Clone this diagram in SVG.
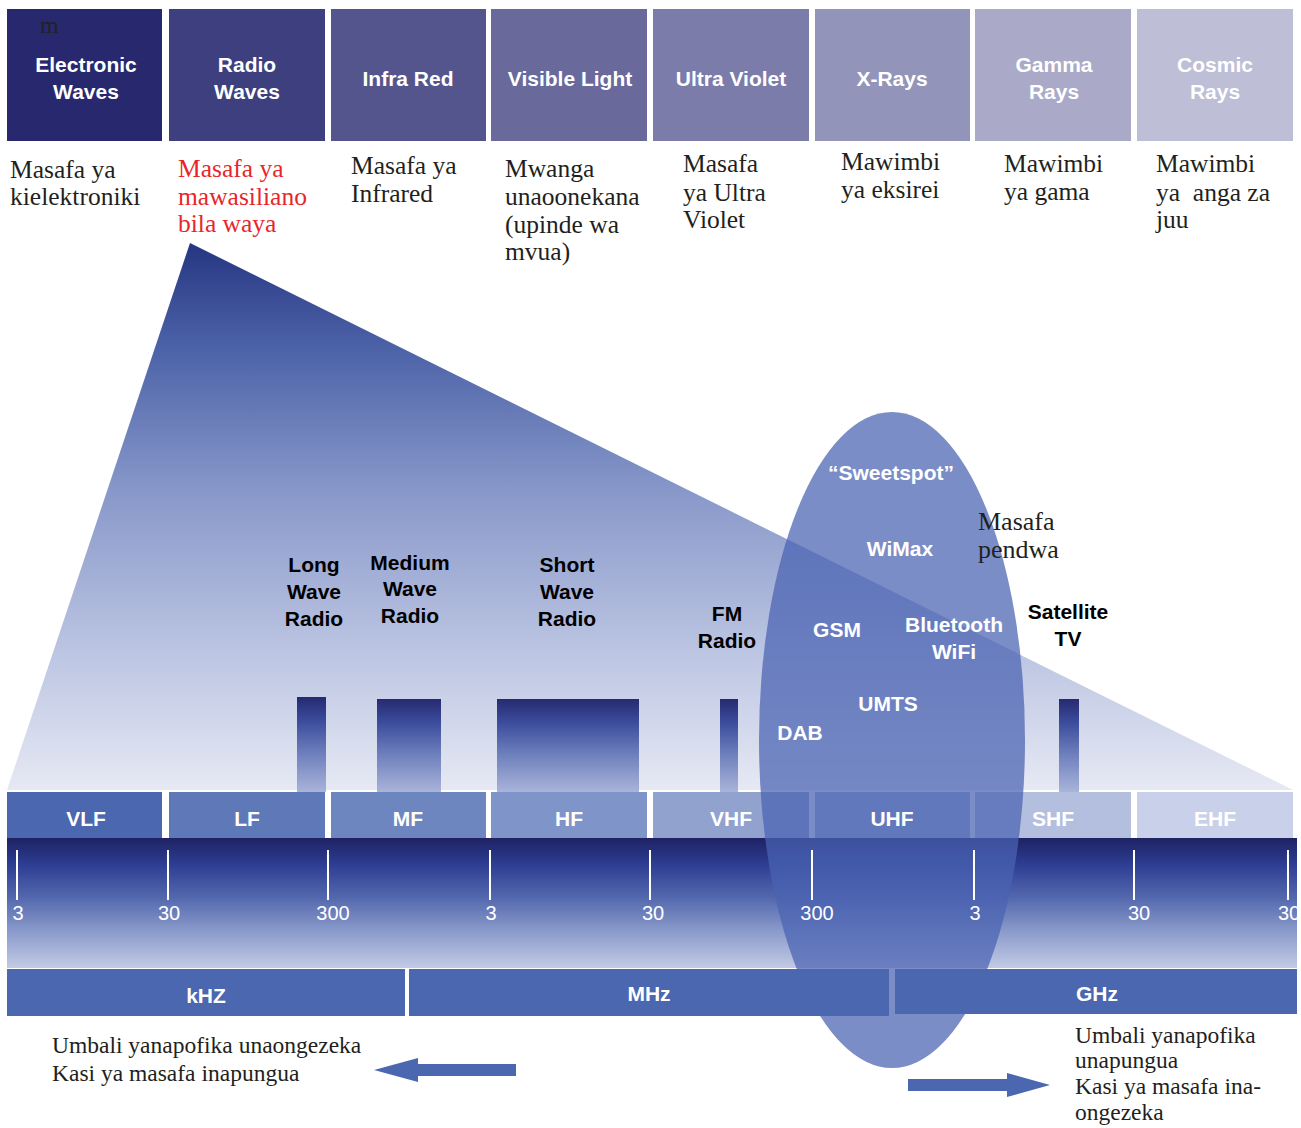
<svg xmlns="http://www.w3.org/2000/svg" width="1301" height="1128" viewBox="0 0 1301 1128">
<style>
.hd{font-family:"Liberation Sans",Arial,sans-serif;font-weight:bold;font-size:21px;fill:#fff;text-anchor:middle}
.ds{font-family:"Liberation Serif","Times New Roman",serif;font-size:25.5px;fill:#231f20}
.red{fill:#e8262a}
.bl{font-family:"Liberation Sans",Arial,sans-serif;font-weight:bold;font-size:21px;fill:#000;text-anchor:middle}
.wl{font-family:"Liberation Sans",Arial,sans-serif;font-weight:bold;font-size:21px;fill:#fff;text-anchor:middle}
.num{font-family:"Liberation Sans",Arial,sans-serif;font-size:20px;fill:#fff;text-anchor:middle}
.tick{stroke:#fff;stroke-width:2}
.bt{font-family:"Liberation Serif","Times New Roman",serif;font-size:23.5px;fill:#231f20}
.unit{fill:#4a67b0}
.bar{fill:url(#gBar)}
</style>
<defs>
<linearGradient id="gTri" gradientUnits="userSpaceOnUse" x1="0" y1="243" x2="0" y2="790">
<stop offset="0" stop-color="#263682"/>
<stop offset="0.2" stop-color="#4e64a9"/>
<stop offset="0.45" stop-color="#8797c9"/>
<stop offset="0.75" stop-color="#bcc5e2"/>
<stop offset="1" stop-color="#e6e9f4"/>
</linearGradient>
<linearGradient id="gBar" x1="0" y1="0" x2="0" y2="1">
<stop offset="0" stop-color="#262a70"/>
<stop offset="0.25" stop-color="#3b4c9c"/>
<stop offset="0.6" stop-color="#6e80bd"/>
<stop offset="1" stop-color="#aab4da"/>
</linearGradient>
<linearGradient id="gScale" gradientUnits="userSpaceOnUse" x1="0" y1="838" x2="0" y2="968">
<stop offset="0" stop-color="#1e2263"/>
<stop offset="0.2" stop-color="#2d3d92"/>
<stop offset="0.45" stop-color="#5266ad"/>
<stop offset="0.7" stop-color="#8797c9"/>
<stop offset="1" stop-color="#c2cae5"/>
</linearGradient>
</defs>
<rect width="1301" height="1128" fill="#fff"/>

<g id="header">
<g id="h-electronic"><rect x="7" y="9" width="155" height="132" fill="#27286e"/><text x="40" y="33" font-family="Liberation Serif,serif" font-size="24" fill="#222">m</text><text class="hd" x="86" y="72">Electronic</text><text class="hd" x="86" y="99">Waves</text></g>
<g id="h-radio"><rect x="169" y="9" width="156" height="132" fill="#3e3f7e"/><text class="hd" x="247" y="72">Radio</text><text class="hd" x="247" y="99">Waves</text></g>
<g id="h-infrared"><rect x="331" y="9" width="155" height="132" fill="#55558d"/><text class="hd" x="408" y="86">Infra Red</text></g>
<g id="h-visible"><rect x="491" y="9" width="156" height="132" fill="#69699c"/><text class="hd" x="570" y="86">Visible Light</text></g>
<g id="h-uv"><rect x="653" y="9" width="156" height="132" fill="#7c7caa"/><text class="hd" x="731" y="86">Ultra Violet</text></g>
<g id="h-xray"><rect x="815" y="9" width="155" height="132" fill="#9394b9"/><text class="hd" x="892" y="86">X-Rays</text></g>
<g id="h-gamma"><rect x="975" y="9" width="156" height="132" fill="#aaaac8"/><text class="hd" x="1054" y="72">Gamma</text><text class="hd" x="1054" y="99">Rays</text></g>
<g id="h-cosmic"><rect x="1137" y="9" width="156" height="132" fill="#bebed6"/><text class="hd" x="1215" y="72">Cosmic</text><text class="hd" x="1215" y="99">Rays</text></g>
</g>

<g id="descriptions">
<text class="ds" x="10" y="178">Masafa ya</text><text class="ds" x="10" y="205">kielektroniki</text>
<text class="ds red" x="178" y="177">Masafa ya</text><text class="ds red" x="178" y="205">mawasiliano</text><text class="ds red" x="178" y="232">bila waya</text>
<text class="ds" x="351" y="174">Masafa ya</text><text class="ds" x="351" y="202">Infrared</text>
<text class="ds" x="505" y="177">Mwanga</text><text class="ds" x="505" y="205">unaoonekana</text><text class="ds" x="505" y="233">(upinde wa</text><text class="ds" x="505" y="260">mvua)</text>
<text class="ds" x="683" y="172">Masafa</text><text class="ds" x="683" y="201">ya Ultra</text><text class="ds" x="683" y="228">Violet</text>
<text class="ds" x="841" y="170">Mawimbi</text><text class="ds" x="841" y="198">ya eksirei</text>
<text class="ds" x="1004" y="172">Mawimbi</text><text class="ds" x="1004" y="200">ya gama</text>
<text class="ds" x="1156" y="172">Mawimbi</text><text class="ds" x="1156" y="201" xml:space="preserve">ya  anga za</text><text class="ds" x="1156" y="228">juu</text>
</g>

<g id="triangle"><polygon points="190,243 7,790 1293,790" fill="url(#gTri)"/></g>

<g id="bands">
<g id="b-long"><rect class="bar" x="297" y="697" width="29" height="95"/><text class="bl" x="314" y="572">Long</text><text class="bl" x="314" y="599">Wave</text><text class="bl" x="314" y="626">Radio</text></g>
<g id="b-medium"><rect class="bar" x="377" y="699" width="64" height="93"/><text class="bl" x="410" y="570">Medium</text><text class="bl" x="410" y="596">Wave</text><text class="bl" x="410" y="623">Radio</text></g>
<g id="b-short"><rect class="bar" x="497" y="699" width="142" height="93"/><text class="bl" x="567" y="572">Short</text><text class="bl" x="567" y="599">Wave</text><text class="bl" x="567" y="626">Radio</text></g>
<g id="b-fm"><rect class="bar" x="720" y="699" width="18" height="93"/><text class="bl" x="727" y="621">FM</text><text class="bl" x="727" y="648">Radio</text></g>
<g id="b-sat"><rect class="bar" x="1059" y="699" width="20" height="93"/><text class="bl" x="1068" y="619">Satellite</text><text class="bl" x="1068" y="646">TV</text></g>
</g>

<g id="label-row">
<rect x="7" y="792" width="155" height="48" fill="#4a67b0"/>
<rect x="169" y="792" width="156" height="48" fill="#5f78b8"/>
<rect x="331" y="792" width="155" height="48" fill="#6e86c0"/>
<rect x="491" y="792" width="156" height="48" fill="#7f94c8"/>
<rect x="653" y="792" width="156" height="48" fill="#91a2cf"/>
<rect x="815" y="792" width="155" height="48" fill="#a4b2da"/>
<rect x="975" y="792" width="156" height="48" fill="#b4bfe0"/>
<rect x="1137" y="792" width="156" height="48" fill="#c9d1ea"/>
</g>

<g id="scale-bar"><rect x="7" y="838" width="1290" height="130" fill="url(#gScale)"/></g>

<g id="sweetspot">
<ellipse cx="892" cy="740" rx="133" ry="328" fill="#4a63b2" fill-opacity="0.73"/>
<text class="wl" x="891" y="480">“Sweetspot”</text>
<text class="wl" x="900" y="556">WiMax</text>
<text class="wl" x="837" y="637">GSM</text>
<text class="wl" x="954" y="632">Bluetooth</text>
<text class="wl" x="954" y="659">WiFi</text>
<text class="wl" x="888" y="711">UMTS</text>
<text class="wl" x="800" y="740">DAB</text>
</g>

<g id="label-text">
<text class="hd" x="86" y="826">VLF</text>
<text class="hd" x="247" y="826">LF</text>
<text class="hd" x="408" y="826">MF</text>
<text class="hd" x="569" y="826">HF</text>
<text class="hd" x="731" y="826">VHF</text>
<text class="hd" x="892" y="826">UHF</text>
<text class="hd" x="1053" y="826">SHF</text>
<text class="hd" x="1215" y="826">EHF</text>
</g>

<g id="scale">
<line class="tick" x1="17" y1="850" x2="17" y2="900"/><text class="num" x="18" y="920">3</text>
<line class="tick" x1="168" y1="850" x2="168" y2="900"/><text class="num" x="169" y="920">30</text>
<line class="tick" x1="328" y1="850" x2="328" y2="900"/><text class="num" x="333" y="920">300</text>
<line class="tick" x1="490" y1="850" x2="490" y2="900"/><text class="num" x="491" y="920">3</text>
<line class="tick" x1="650" y1="850" x2="650" y2="900"/><text class="num" x="653" y="920">30</text>
<line class="tick" x1="812" y1="850" x2="812" y2="900"/><text class="num" x="817" y="920">300</text>
<line class="tick" x1="974" y1="850" x2="974" y2="900"/><text class="num" x="975" y="920">3</text>
<line class="tick" x1="1134" y1="850" x2="1134" y2="900"/><text class="num" x="1139" y="920">30</text>
<line class="tick" x1="1288" y1="850" x2="1288" y2="900"/><text class="num" x="1289" y="920">30</text>
</g>

<g id="pendwa"><text class="ds" x="978" y="530" style="font-size:26px">Masafa</text><text class="ds" x="978" y="558" style="font-size:26px">pendwa</text></g>

<g id="units">
<rect class="unit" x="7" y="969" width="398" height="47"/><text class="hd" x="206" y="1003">kHZ</text>
<rect class="unit" x="409" y="969" width="480" height="47"/><text class="hd" x="649" y="1001">MHz</text>
<rect class="unit" x="895" y="969" width="402" height="45"/><text class="hd" x="1097" y="1001">GHz</text>
</g>

<g id="connectors">
<polygon points="516,1064 418,1064 418,1058 374,1070 418,1082 418,1076 516,1076" fill="#4a67b0"/>
<polygon points="908,1079 1007,1079 1007,1073 1050,1085 1007,1097 1007,1091 908,1091" fill="#4a67b0"/>
</g>

<g id="bottom-text">
<text class="bt" x="52" y="1053">Umbali yanapofika unaongezeka</text>
<text class="bt" x="52" y="1081">Kasi ya masafa inapungua</text>
<text class="bt" x="1075" y="1043">Umbali yanapofika</text>
<text class="bt" x="1075" y="1068">unapungua</text>
<text class="bt" x="1075" y="1094">Kasi ya masafa ina-</text>
<text class="bt" x="1075" y="1120">ongezeka</text>
</g>
</svg>
